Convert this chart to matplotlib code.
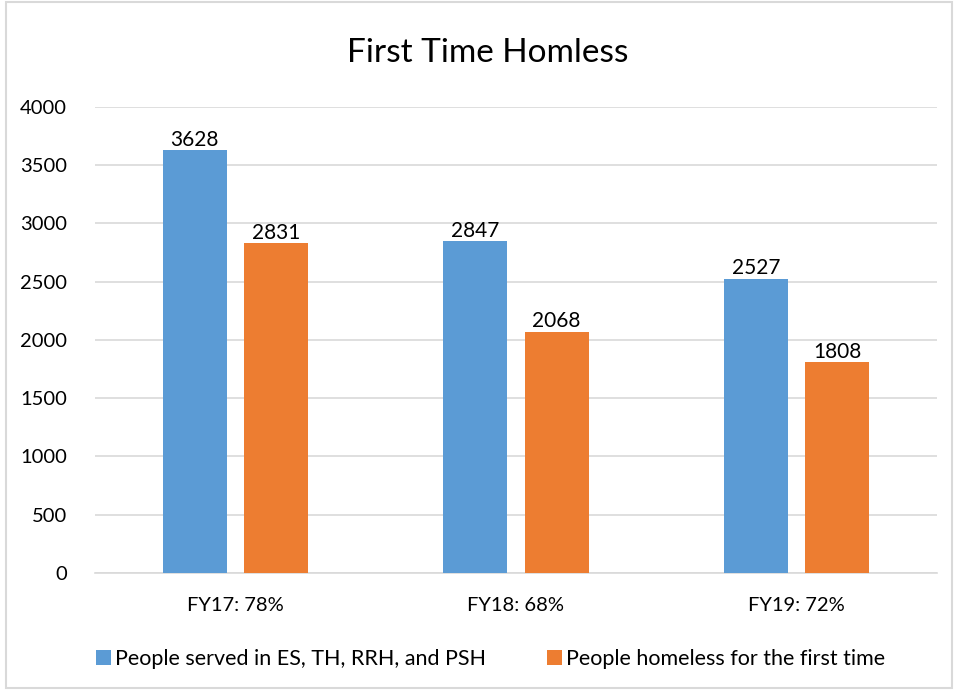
import numpy as np
import matplotlib.pyplot as plt
from matplotlib.patches import Rectangle

categories = ["FY17: 78%", "FY18: 68%", "FY19: 72%"]
served = [3628, 2847, 2527]
first_time = [2831, 2068, 1808]
series_names = ["People served in ES, TH, RRH, and PSH", "People homeless for the first time"]

plt.rcParams['font.family'] = ['Lato', 'DejaVu Sans']

fig = plt.figure(figsize=(9.56, 6.9), dpi=100)
ax = fig.add_axes([0.0994, 0.1696, 0.8806, 0.6754])

x = np.arange(len(categories))
w = 0.228
b1 = ax.bar(x - 0.145, served, w, color="#5b9bd5", label=series_names[0], zorder=3)
b2 = ax.bar(x + 0.145, first_time, w, color="#ed7d31", label=series_names[1], zorder=3)
for bars in (b1, b2):
    for r in bars:
        ax.text(r.get_x() + r.get_width() / 2, r.get_height() + 5, str(int(r.get_height())),
                ha="center", va="bottom", fontsize=15)

ax.set_xlim(-0.5, 2.5)
ax.set_ylim(0, 4000)
ax.set_yticks(range(0, 4001, 500))
ax.set_xticks(x)
ax.set_xticklabels(categories)
ax.tick_params(axis="both", length=0, labelsize=14.5)
ax.tick_params(axis="x", pad=17)
ax.tick_params(axis="y", pad=20)
ax.grid(axis="y", color="#d9d9d9", linewidth=1.2, zorder=0)
for s in ["top", "right", "left"]:
    ax.spines[s].set_visible(False)
ax.spines["bottom"].set_color("#d9d9d9")
ax.spines["bottom"].set_linewidth(1.2)

fig.text(0.51, 0.923, "First Time Homless", ha="center", va="center", fontsize=24)

fig.legend(loc="center", bbox_to_anchor=(0.513, 0.045), ncol=2, frameon=False,
           fontsize=15.5, handlelength=0.7, handleheight=0.7, handletextpad=0.2, columnspacing=2.8)

fig.patches.append(Rectangle((0.006, 0.003), 0.99, 0.994, transform=fig.transFigure,
                             fill=False, edgecolor="#d9d9d9", linewidth=1.5))

fig.savefig("out.png", dpi=100)
